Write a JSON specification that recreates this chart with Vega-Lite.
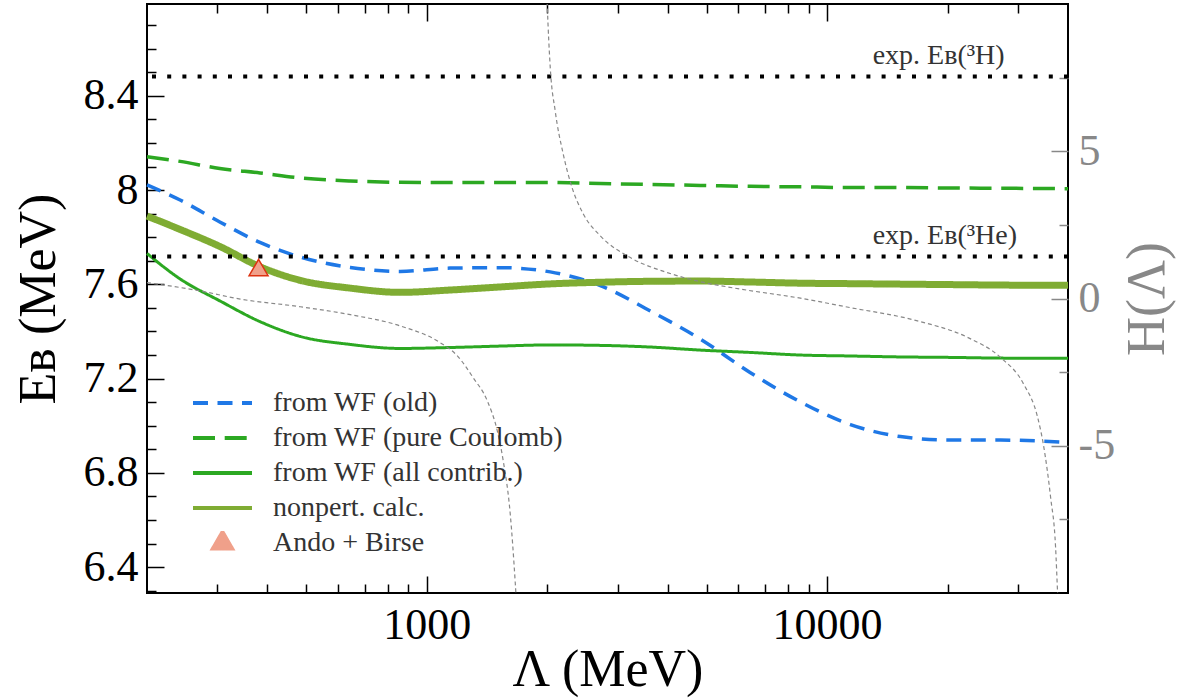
{
  "$schema": "https://vega.github.io/schema/vega-lite/v6.json",
  "width": 921,
  "height": 589,
  "autosize": {"type": "none"},
  "padding": {"left": 147, "top": 4, "right": 114, "bottom": 107},
  "background": "white",
  "config": {
    "font": "Liberation Serif",
    "text": {"font": "Liberation Serif"},
    "view": {"stroke": "black", "strokeWidth": 2},
    "axis": {"domain": false, "grid": false, "labelFont": "Liberation Serif", "titleFont": "Liberation Serif", "titleFontWeight": "normal", "labelOverlap": false, "labelFlush": false, "tickWidth": 1.5},
    "legend": {"orient": "none", "legendX": 44, "legendY": 387, "padding": 0, "symbolSize": 3481, "symbolStrokeWidth": 4, "clipHeight": 24, "rowPadding": 7, "labelFont": "Liberation Serif", "labelFontSize": 28, "labelColor": "#333", "labelOffset": 19, "labelLimit": 600}
  },
  "datasets": {
    "curves": [
      {"series": "from WF (old)", "L": 200, "E": 8.022},
      {"series": "from WF (old)", "L": 242, "E": 7.958},
      {"series": "from WF (old)", "L": 304, "E": 7.865},
      {"series": "from WF (old)", "L": 383, "E": 7.778},
      {"series": "from WF (old)", "L": 483, "E": 7.716},
      {"series": "from WF (old)", "L": 644, "E": 7.672},
      {"series": "from WF (old)", "L": 858, "E": 7.655},
      {"series": "from WF (old)", "L": 1144, "E": 7.669},
      {"series": "from WF (old)", "L": 1525, "E": 7.671},
      {"series": "from WF (old)", "L": 2035, "E": 7.653},
      {"series": "from WF (old)", "L": 2350, "E": 7.629},
      {"series": "from WF (old)", "L": 2713, "E": 7.595},
      {"series": "from WF (old)", "L": 3618, "E": 7.487},
      {"series": "from WF (old)", "L": 4825, "E": 7.368},
      {"series": "from WF (old)", "L": 6436, "E": 7.225},
      {"series": "from WF (old)", "L": 8581, "E": 7.101},
      {"series": "from WF (old)", "L": 11440, "E": 7.005},
      {"series": "from WF (old)", "L": 15250, "E": 6.954},
      {"series": "from WF (old)", "L": 20350, "E": 6.939},
      {"series": "from WF (old)", "L": 27130, "E": 6.939},
      {"series": "from WF (old)", "L": 40000, "E": 6.929},

      {"series": "from WF (pure Coulomb)", "L": 200, "E": 8.142},
      {"series": "from WF (pure Coulomb)", "L": 242, "E": 8.122},
      {"series": "from WF (pure Coulomb)", "L": 304, "E": 8.092},
      {"series": "from WF (pure Coulomb)", "L": 383, "E": 8.073},
      {"series": "from WF (pure Coulomb)", "L": 483, "E": 8.052},
      {"series": "from WF (pure Coulomb)", "L": 644, "E": 8.039},
      {"series": "from WF (pure Coulomb)", "L": 858, "E": 8.033},
      {"series": "from WF (pure Coulomb)", "L": 1144, "E": 8.032},
      {"series": "from WF (pure Coulomb)", "L": 1525, "E": 8.032},
      {"series": "from WF (pure Coulomb)", "L": 2035, "E": 8.032},
      {"series": "from WF (pure Coulomb)", "L": 2713, "E": 8.028},
      {"series": "from WF (pure Coulomb)", "L": 3618, "E": 8.024},
      {"series": "from WF (pure Coulomb)", "L": 4825, "E": 8.020},
      {"series": "from WF (pure Coulomb)", "L": 6436, "E": 8.016},
      {"series": "from WF (pure Coulomb)", "L": 8581, "E": 8.014},
      {"series": "from WF (pure Coulomb)", "L": 11440, "E": 8.011},
      {"series": "from WF (pure Coulomb)", "L": 15250, "E": 8.011},
      {"series": "from WF (pure Coulomb)", "L": 20350, "E": 8.009},
      {"series": "from WF (pure Coulomb)", "L": 27130, "E": 8.008},
      {"series": "from WF (pure Coulomb)", "L": 40000, "E": 8.006},

      {"series": "from WF (all contrib.)", "L": 200, "E": 7.731},
      {"series": "from WF (all contrib.)", "L": 242, "E": 7.623},
      {"series": "from WF (all contrib.)", "L": 304, "E": 7.530},
      {"series": "from WF (all contrib.)", "L": 383, "E": 7.442},
      {"series": "from WF (all contrib.)", "L": 483, "E": 7.379},
      {"series": "from WF (all contrib.)", "L": 644, "E": 7.345},
      {"series": "from WF (all contrib.)", "L": 858, "E": 7.328},
      {"series": "from WF (all contrib.)", "L": 1144, "E": 7.332},
      {"series": "from WF (all contrib.)", "L": 1525, "E": 7.338},
      {"series": "from WF (all contrib.)", "L": 2035, "E": 7.343},
      {"series": "from WF (all contrib.)", "L": 2713, "E": 7.341},
      {"series": "from WF (all contrib.)", "L": 3618, "E": 7.334},
      {"series": "from WF (all contrib.)", "L": 4825, "E": 7.321},
      {"series": "from WF (all contrib.)", "L": 6436, "E": 7.311},
      {"series": "from WF (all contrib.)", "L": 8581, "E": 7.300},
      {"series": "from WF (all contrib.)", "L": 11440, "E": 7.296},
      {"series": "from WF (all contrib.)", "L": 15250, "E": 7.292},
      {"series": "from WF (all contrib.)", "L": 20350, "E": 7.290},
      {"series": "from WF (all contrib.)", "L": 27130, "E": 7.287},
      {"series": "from WF (all contrib.)", "L": 40000, "E": 7.286},

      {"series": "nonpert. calc.", "L": 200, "E": 7.890},
      {"series": "nonpert. calc.", "L": 242, "E": 7.833},
      {"series": "nonpert. calc.", "L": 304, "E": 7.761},
      {"series": "nonpert. calc.", "L": 383, "E": 7.675},
      {"series": "nonpert. calc.", "L": 483, "E": 7.617},
      {"series": "nonpert. calc.", "L": 644, "E": 7.584},
      {"series": "nonpert. calc.", "L": 858, "E": 7.566},
      {"series": "nonpert. calc.", "L": 1144, "E": 7.576},
      {"series": "nonpert. calc.", "L": 1525, "E": 7.589},
      {"series": "nonpert. calc.", "L": 2035, "E": 7.602},
      {"series": "nonpert. calc.", "L": 2713, "E": 7.609},
      {"series": "nonpert. calc.", "L": 3618, "E": 7.613},
      {"series": "nonpert. calc.", "L": 4825, "E": 7.614},
      {"series": "nonpert. calc.", "L": 6436, "E": 7.610},
      {"series": "nonpert. calc.", "L": 8581, "E": 7.605},
      {"series": "nonpert. calc.", "L": 11440, "E": 7.603},
      {"series": "nonpert. calc.", "L": 15250, "E": 7.601},
      {"series": "nonpert. calc.", "L": 20350, "E": 7.599},
      {"series": "nonpert. calc.", "L": 27130, "E": 7.597},
      {"series": "nonpert. calc.", "L": 40000, "E": 7.596}
    ],
    "ab": [
      {"series": "Ando + Birse", "L": 380, "E": 7.66}
    ],
    "exp": [
      {"label": "exp. Eʙ(³H)", "E": 8.482},
      {"label": "exp. Eʙ(³He)", "E": 7.718}
    ],
    "hfun": [
      {"branch": "a", "L": 200, "H": 0.54},
      {"branch": "a", "L": 271, "H": 0.26},
      {"branch": "a", "L": 342, "H": -0.02},
      {"branch": "a", "L": 483, "H": -0.28},
      {"branch": "a", "L": 644, "H": -0.55},
      {"branch": "a", "L": 858, "H": -0.93},
      {"branch": "a", "L": 1080, "H": -1.50},
      {"branch": "a", "L": 1191, "H": -1.94},
      {"branch": "a", "L": 1306, "H": -2.69},
      {"branch": "a", "L": 1416, "H": -3.47},
      {"branch": "a", "L": 1500, "H": -4.49},
      {"branch": "a", "L": 1552, "H": -5.50},
      {"branch": "a", "L": 1616, "H": -7.30},
      {"branch": "a", "L": 1664, "H": -9.67},
      {"branch": "a", "L": 1680, "H": -10.6},
      {"branch": "b", "L": 1990, "H": 10.8},
      {"branch": "b", "L": 2000, "H": 9.96},
      {"branch": "b", "L": 2035, "H": 7.83},
      {"branch": "b", "L": 2094, "H": 6.36},
      {"branch": "b", "L": 2193, "H": 4.90},
      {"branch": "b", "L": 2309, "H": 3.75},
      {"branch": "b", "L": 2461, "H": 2.87},
      {"branch": "b", "L": 2713, "H": 2.13},
      {"branch": "b", "L": 3225, "H": 1.39},
      {"branch": "b", "L": 3990, "H": 0.88},
      {"branch": "b", "L": 4825, "H": 0.57},
      {"branch": "b", "L": 5834, "H": 0.36},
      {"branch": "b", "L": 8581, "H": 0.01},
      {"branch": "b", "L": 11440, "H": -0.31},
      {"branch": "b", "L": 16830, "H": -0.76},
      {"branch": "b", "L": 22440, "H": -1.32},
      {"branch": "b", "L": 27130, "H": -2.00},
      {"branch": "b", "L": 30970, "H": -2.90},
      {"branch": "b", "L": 33580, "H": -4.03},
      {"branch": "b", "L": 34750, "H": -4.99},
      {"branch": "b", "L": 36190, "H": -6.75},
      {"branch": "b", "L": 37240, "H": -8.44},
      {"branch": "b", "L": 37670, "H": -9.98},
      {"branch": "b", "L": 37900, "H": -10.8}
    ]
  },
  "resolve": {"scale": {"y": "independent"}, "axis": {"x": "independent", "y": "independent"}},
  "layer": [
    {
      "data": {"name": "curves"},
      "transform": [{"filter": "datum.series === 'from WF (old)'"}],
      "mark": {"type": "line", "strokeWidth": 3.5, "interpolate": "monotone"},
      "encoding": {
        "x": {
          "field": "L", "type": "quantitative",
          "scale": {"type": "log", "domain": [200, 40000], "nice": false},
          "axis": {
            "orient": "bottom",
            "values": [300, 400, 500, 600, 700, 800, 900, 1000, 2000, 3000, 4000, 5000, 6000, 7000, 8000, 9000, 10000, 20000, 30000],
            "tickSize": {"condition": {"test": "datum.value == 1000 || datum.value == 10000", "value": -17}, "value": -9},
            "tickColor": "black",
            "labelExpr": "datum.value == 1000 || datum.value == 10000 ? '' + datum.value : ''",
            "labelFont": "Liberation Serif",
            "labelFontSize": 44,
            "labelColor": "black",
            "labelPadding": 27,
            "title": "Λ (MeV)",
            "titleFont": "Liberation Serif",
            "titleFontSize": 52,
            "titleColor": "black",
            "titlePadding": -11
          }
        },
        "y": {
          "field": "E", "type": "quantitative",
          "scale": {"domain": [6.29, 8.79], "nice": false, "zero": false},
          "axis": {
            "orient": "left",
            "values": [6.3, 6.4, 6.5, 6.6, 6.7, 6.8, 6.9, 7.0, 7.1, 7.2, 7.3, 7.4, 7.5, 7.6, 7.7, 7.8, 7.9, 8.0, 8.1, 8.2, 8.3, 8.4, 8.5, 8.6, 8.7],
            "tickSize": {"condition": {"test": "indexof([6.4, 6.8, 7.2, 7.6, 8, 8.4], datum.value) >= 0", "value": -17}, "value": -9},
            "tickColor": "black",
            "labelExpr": "indexof([6.4, 6.8, 7.2, 7.6, 8, 8.4], datum.value) >= 0 ? '' + datum.value : ''",
            "labelFont": "Liberation Serif",
            "labelFontSize": 44,
            "labelColor": "black",
            "labelPadding": 26,
            "title": "Eʙ (MeV)",
            "titleFont": "Liberation Serif",
            "titleFontSize": 52,
            "titleColor": "black",
            "titlePadding": 18
          }
        },
        "color": {
          "field": "series", "type": "nominal",
          "scale": {
            "domain": ["from WF (old)", "from WF (pure Coulomb)", "from WF (all contrib.)", "nonpert. calc.", "Ando + Birse"],
            "range": ["#1f78e6", "#2ca822", "#2ca822", "#7fac33", "#f0a08a"]
          },
          "legend": {"title": null, "symbolType": "stroke", "labelFont": "Liberation Serif", "labelFontSize": 28}
        },
        "strokeDash": {
          "field": "series", "type": "nominal",
          "scale": {
            "domain": ["from WF (old)", "from WF (pure Coulomb)", "from WF (all contrib.)", "nonpert. calc.", "Ando + Birse"],
            "range": [[15, 9.5], [22, 9.7], [1, 0], [1, 0], [1, 0]]
          },
          "legend": {"title": null, "symbolType": "stroke", "labelFont": "Liberation Serif", "labelFontSize": 28}
        }
      }
    },
    {
      "data": {"name": "curves"},
      "transform": [{"filter": "datum.series === 'from WF (pure Coulomb)'"}],
      "mark": {"type": "line", "strokeWidth": 3.5, "interpolate": "monotone"},
      "encoding": {
        "x": {"field": "L", "type": "quantitative", "scale": {"type": "log", "domain": [200, 40000], "nice": false}, "axis": null},
        "y": {"field": "E", "type": "quantitative", "scale": {"domain": [6.29, 8.79], "nice": false, "zero": false}, "axis": null},
        "color": {"field": "series", "type": "nominal", "legend": null},
        "strokeDash": {"field": "series", "type": "nominal", "legend": null}
      }
    },
    {
      "data": {"name": "curves"},
      "transform": [{"filter": "datum.series === 'from WF (all contrib.)'"}],
      "mark": {"type": "line", "strokeWidth": 3, "interpolate": "monotone"},
      "encoding": {
        "x": {"field": "L", "type": "quantitative", "scale": {"type": "log", "domain": [200, 40000], "nice": false}, "axis": null},
        "y": {"field": "E", "type": "quantitative", "scale": {"domain": [6.29, 8.79], "nice": false, "zero": false}, "axis": null},
        "color": {"field": "series", "type": "nominal", "legend": null},
        "strokeDash": {"field": "series", "type": "nominal", "legend": null}
      }
    },
    {
      "data": {"name": "curves"},
      "transform": [{"filter": "datum.series === 'nonpert. calc.'"}],
      "mark": {"type": "line", "strokeWidth": 7, "interpolate": "monotone"},
      "encoding": {
        "x": {"field": "L", "type": "quantitative", "scale": {"type": "log", "domain": [200, 40000], "nice": false}, "axis": null},
        "y": {"field": "E", "type": "quantitative", "scale": {"domain": [6.29, 8.79], "nice": false, "zero": false}, "axis": null},
        "color": {"field": "series", "type": "nominal", "legend": null},
        "strokeDash": {"field": "series", "type": "nominal", "legend": null}
      }
    },
    {
      "data": {"name": "exp"},
      "mark": {"type": "rule", "color": "black", "strokeWidth": 4, "strokeDash": [4, 11.2], "strokeCap": "butt"},
      "encoding": {
        "y": {"field": "E", "type": "quantitative", "scale": {"domain": [6.29, 8.79], "nice": false, "zero": false}, "axis": null}
      }
    },
    {
      "data": {"name": "exp"},
      "mark": {"type": "text", "align": "left", "baseline": "alphabetic", "dy": -12.5, "fontSize": 28, "color": "#333", "font": "Liberation Serif"},
      "encoding": {
        "x": {"datum": 13000, "type": "quantitative", "scale": {"type": "log", "domain": [200, 40000], "nice": false}, "axis": null},
        "y": {"field": "E", "type": "quantitative", "scale": {"domain": [6.29, 8.79], "nice": false, "zero": false}, "axis": null},
        "text": {"field": "label"}
      }
    },
    {
      "data": {"name": "ab"},
      "mark": {"type": "point", "filled": true, "size": 3481, "stroke": "#dd3311", "strokeWidth": 1.5, "opacity": 1},
      "encoding": {
        "x": {"field": "L", "type": "quantitative", "scale": {"type": "log", "domain": [200, 40000], "nice": false}, "axis": null},
        "y": {"field": "E", "type": "quantitative", "scale": {"domain": [6.29, 8.79], "nice": false, "zero": false}, "axis": null},
        "color": {"field": "series", "type": "nominal", "legend": null},
        "shape": {
          "field": "series", "type": "nominal",
          "scale": {
            "domain": ["from WF (old)", "from WF (pure Coulomb)", "from WF (all contrib.)", "nonpert. calc.", "Ando + Birse"],
            "range": ["stroke", "stroke", "stroke", "stroke", "M0,-0.372L0.322,0.186L-0.322,0.186Z"]
          },
          "legend": {"title": null, "labelFont": "Liberation Serif", "labelFontSize": 28}
        }
      }
    },
    {
      "data": {"name": "hfun"},
      "mark": {"type": "line", "color": "#888888", "strokeWidth": 1.2, "strokeDash": [4, 3], "interpolate": "monotone", "clip": true},
      "encoding": {
        "x": {
          "field": "L", "type": "quantitative",
          "scale": {"type": "log", "domain": [200, 40000], "nice": false},
          "axis": {
            "orient": "top",
            "values": [300, 400, 500, 600, 700, 800, 900, 1000, 2000, 3000, 4000, 5000, 6000, 7000, 8000, 9000, 10000, 20000, 30000],
            "tickSize": {"condition": {"test": "datum.value == 1000 || datum.value == 10000", "value": -17}, "value": -9},
            "tickColor": "black",
            "labels": false,
            "title": null
          }
        },
        "y": {
          "field": "H", "type": "quantitative",
          "scale": {"domain": [-10, 10], "nice": false, "zero": false},
          "axis": {
            "orient": "right",
            "values": [-7.5, -5, -2.5, 0, 2.5, 5, 7.5],
            "tickSize": {"condition": {"test": "datum.value % 5 == 0", "value": -17}, "value": -9},
            "tickColor": "#888888",
            "labelExpr": "datum.value % 5 == 0 ? '' + datum.value : ''",
            "labelFont": "Liberation Serif",
            "labelFontSize": 44,
            "labelColor": "#888888",
            "labelPadding": 27,
            "title": "H(Λ)",
            "titleFont": "Liberation Serif",
            "titleFontSize": 54,
            "titleColor": "#888888",
            "titleAngle": 270,
            "titlePadding": 60
          }
        },
        "detail": {"field": "branch"}
      }
    }
  ]
}
